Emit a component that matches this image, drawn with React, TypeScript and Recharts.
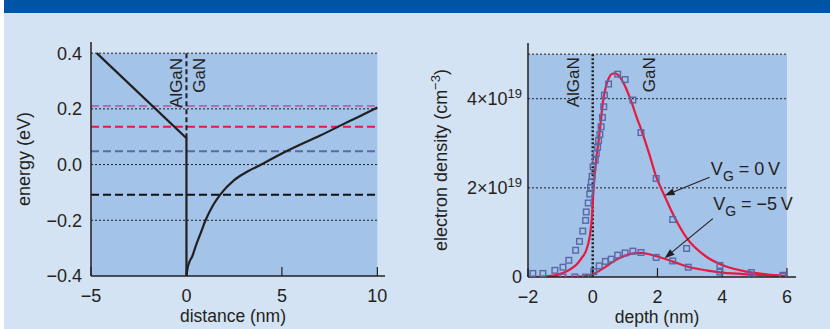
import {
  ComposedChart,
  Line,
  Scatter,
  XAxis,
  YAxis,
  ReferenceArea,
  ReferenceLine,
  ReferenceDot,
} from "recharts";

const FONT = '"Liberation Sans", Arial, Helvetica, sans-serif';
const INK = "#231f20";
const PAGE_BG = "#d4e3f3";
const PLOT_BG = "#a3c3e8";
const HEADER = "#0054a6";
const RED = "#e8193f";
const SQUARE = "#5868a4";

// left panel: conduction band profile (energy in eV vs distance in nm)
const distanceTicks = [-5, 0, 5, 10];
const energyTicks = [-0.4, -0.2, 0, 0.2, 0.4];
const energyGrid = [0.4, 0.2, 0, -0.2];
const barrierX = [-4.7, 0, 0];
const barrierE = [0.4, 0.095, -0.4];
const wellX = [0, 0.05, 0.15, 0.3, 0.5, 0.75, 1.0, 1.4, 1.8, 2.5, 3.2, 4, 5, 6, 7, 8, 9, 10];
const wellE = [-0.4, -0.375, -0.35, -0.33, -0.29, -0.245, -0.2, -0.145, -0.105, -0.056, -0.025, 0.003, 0.04, 0.073, 0.104, 0.138, 0.171, 0.205];
const levelE = [0.21, 0.136, 0.048, -0.108];
const levelColors = ["#b36cb6", RED, "#5a6aa2", "#111111"];

// right panel: electron density, in units of 1e19 cm^-3
const depthTicks = [-2, 0, 2, 4, 6];
const densityTicks = [0, 2, 4];
const densityGrid = [5, 4, 2];
const fit0X = [-2, -1.5, -1, -0.75, -0.5, -0.35, -0.2, -0.1, -0.03, 0.02, 0.06, 0.1, 0.18, 0.25, 0.32, 0.4, 0.5, 0.6, 0.7, 0.8, 0.9, 1.0, 1.16, 1.35, 1.55, 1.75, 1.96, 2.2, 2.5, 2.9, 3.5, 4.1, 4.75, 5.5, 6];
const fit0Y = [0, 0.01, 0.07, 0.15, 0.28, 0.42, 0.6, 0.88, 1.3, 1.9, 2.3, 2.6, 3.05, 3.5, 3.95, 4.25, 4.47, 4.56, 4.57, 4.52, 4.42, 4.28, 4.0, 3.6, 3.2, 2.75, 2.25, 1.85, 1.38, 0.88, 0.46, 0.24, 0.12, 0.05, 0.02];
const fit5X = [-2, -1, -0.5, -0.2, 0, 0.25, 0.5, 0.75, 1.0, 1.25, 1.5, 1.75, 2.0, 2.5, 3.0, 3.5, 4.0, 4.5, 5, 5.5, 6];
const fit5Y = [0, 0, 0.005, 0.02, 0.06, 0.16, 0.28, 0.4, 0.48, 0.53, 0.54, 0.51, 0.46, 0.34, 0.22, 0.15, 0.1, 0.075, 0.05, 0.035, 0.02];
const meas0X = [-1.85, -1.54, -1.17, -0.92, -0.74, -0.53, -0.41, -0.31, -0.22, -0.2, -0.14, -0.09, -0.07, -0.04, -0.02, 0.01, 0.08, 0.11, 0.15, 0.18, 0.22, 0.26, 0.3, 0.34, 0.36, 0.49, 0.77, 1.0, 1.24, 1.49, 1.96, 2.47, 2.9, 3.93, 4.9, 5.88];
const meas0Y = [0.08, 0.08, 0.15, 0.22, 0.375, 0.6, 0.8, 1.03, 1.27, 1.46, 1.66, 1.86, 2.01, 2.13, 2.26, 2.47, 2.62, 2.77, 2.91, 3.06, 3.2, 3.37, 3.58, 3.82, 4.08, 4.33, 4.55, 4.43, 3.97, 3.24, 2.21, 1.29, 0.64, 0.26, 0.1, 0.04];
const meas5X = [-0.92, -0.55, -0.22, 0.03, 0.2, 0.39, 0.57, 0.77, 1.0, 1.24, 1.49, 1.96, 2.47, 2.95, 3.93, 4.9, 5.88];
const meas5Y = [0, 0, 0, 0.12, 0.25, 0.35, 0.4, 0.49, 0.54, 0.58, 0.55, 0.44, 0.36, 0.22, 0.11, 0.02, 0.02];

const zip = (xs: number[], ys: number[]) => xs.map((x, i) => ({ x, y: ys[i] }));
const fmt = (v: number, digits = 0) => (v < 0 ? "\u2212" : "") + Math.abs(v).toFixed(digits);

const tickStyle = { fill: INK, fontSize: 18, fontFamily: FONT };
const axisStyle = { stroke: INK, strokeWidth: 1.5 };

const XTitle = ({ viewBox, text, dx }: any) => (
  <text x={viewBox.x + dx} y={viewBox.y + 46} textAnchor="middle" fill={INK} fontSize={17.5} fontFamily={FONT}>
    {text}
  </text>
);

const YTitle = ({ viewBox, dx, children }: any) => {
  const x = viewBox.x + dx;
  const y = viewBox.y + viewBox.height / 2;
  return (
    <text x={x} y={y} transform={`rotate(-90 ${x} ${y})`} textAnchor="middle" fill={INK} fontSize={18} fontFamily={FONT}>
      {children}
    </text>
  );
};

const DensityTick = ({ x, y, payload }: any) => (
  <text x={x} y={y + 6} textAnchor="end" fill={INK} fontSize={18} fontFamily={FONT}>
    {payload.value === 0 ? (
      "0"
    ) : (
      <>
        {payload.value}×10<tspan dy={-7} fontSize={13}>19</tspan>
      </>
    )}
  </text>
);

const Square = ({ cx, cy }: any) => (
  <rect x={cx - 2.8} y={cy - 2.8} width={5.6} height={5.6} fill="none" stroke={SQUARE} strokeWidth={1.4} />
);

const Arrow = ({ x1, y1, x2, y2 }: any) => {
  const a = Math.atan2(y2 - y1, x2 - x1);
  const bx = x2 - 10 * Math.cos(a);
  const by = y2 - 10 * Math.sin(a);
  const nx = -Math.sin(a) * 3.5;
  const ny = Math.cos(a) * 3.5;
  return (
    <g>
      <line x1={x1} y1={y1} x2={bx} y2={by} stroke={INK} strokeWidth={1.1} />
      <polygon points={`${x2},${y2} ${bx + nx},${by + ny} ${bx - nx},${by - ny}`} fill={INK} />
    </g>
  );
};

const sideLabel = (text: string) => ({ cx, cy }: any) => (
  <text x={cx} y={cy} transform={`rotate(-90 ${cx} ${cy})`} textAnchor="end" fill={INK} fontSize={17} fontFamily={FONT}>
    {text}
  </text>
);

const gateLabel = (value: string) => ({ cx, cy }: any) => (
  <text x={cx} y={cy} fill={INK} fontSize={18} fontFamily={FONT}>
    V<tspan dy={6} fontSize={14}>G</tspan>
    <tspan dy={-6}>{` = ${value}\u2009V`}</tspan>
  </text>
);

function BandChart() {
  return (
    <ComposedChart width={400} height={329} margin={{ top: 42, right: 15, bottom: 23, left: 31 }}>
      <XAxis
        type="number"
        dataKey="x"
        domain={[-5, 10.4]}
        ticks={distanceTicks}
        interval={0}
        allowDataOverflow
        height={30}
        tickSize={-9}
        tickMargin={22}
        tickLine={{ stroke: INK, strokeWidth: 1.2 }}
        axisLine={axisStyle}
        tick={tickStyle}
        tickFormatter={(v) => fmt(v)}
        label={<XTitle text="distance (nm)" dx={142} />}
      />
      <YAxis
        type="number"
        dataKey="y"
        domain={[-0.4, 0.44]}
        ticks={energyTicks}
        interval={0}
        allowDataOverflow
        width={60}
        tickLine={false}
        tickSize={0}
        tickMargin={9}
        axisLine={axisStyle}
        tick={tickStyle}
        tickFormatter={(v) => fmt(v, 1)}
        label={<YTitle dx={-1.5}>energy (eV)</YTitle>}
      />
      <ReferenceArea x1={-5} x2={10} y1={-0.4} y2={0.4} fill={PLOT_BG} fillOpacity={1} stroke="none" />
      {energyGrid.map((g) => (
        <ReferenceLine key={g} segment={[{ x: -5, y: g }, { x: 10, y: g }]} stroke={INK} strokeWidth={1} strokeDasharray="2 2" />
      ))}
      {levelE.map((e, i) => (
        <ReferenceLine key={e} segment={[{ x: -5, y: e }, { x: 10, y: e }]} stroke={levelColors[i]} strokeWidth={2} strokeDasharray="8 4" />
      ))}
      <ReferenceLine segment={[{ x: 0, y: 0.4 }, { x: 0, y: 0.095 }]} stroke={INK} strokeWidth={2} strokeDasharray="5 3" />
      <ReferenceDot x={-0.25} y={0.383} r={0} shape={sideLabel("AlGaN")} />
      <ReferenceDot x={0.96} y={0.383} r={0} shape={sideLabel("GaN")} />
      <Line data={zip(barrierX, barrierE)} dataKey="y" type="linear" stroke={INK} strokeWidth={2.2} dot={false} isAnimationActive={false} />
      <Line data={zip(wellX, wellE)} dataKey="y" type="monotone" stroke={INK} strokeWidth={2.2} dot={false} isAnimationActive={false} />
    </ComposedChart>
  );
}

function DensityChart() {
  return (
    <ComposedChart width={410} height={329} margin={{ top: 43, right: 34, bottom: 22, left: 28 }}>
      <XAxis
        type="number"
        dataKey="x"
        domain={[-2, 6.28]}
        ticks={depthTicks}
        interval={0}
        allowDataOverflow
        height={30}
        tickSize={-9}
        tickMargin={22}
        tickLine={{ stroke: INK, strokeWidth: 1.2 }}
        axisLine={axisStyle}
        tick={tickStyle}
        tickFormatter={(v) => fmt(v)}
        label={<XTitle text="depth (nm)" dx={129} />}
      />
      <YAxis
        type="number"
        dataKey="y"
        domain={[0, 5.25]}
        ticks={densityTicks}
        interval={0}
        allowDataOverflow
        width={80}
        tickLine={false}
        tickSize={0}
        tickMargin={6}
        axisLine={axisStyle}
        tick={<DensityTick />}
        label={
          <YTitle dx={-1.3}>
            electron density (cm<tspan dy={-7} fontSize={13}>{"\u22123"}</tspan>
            <tspan dy={7}>)</tspan>
          </YTitle>
        }
      />
      <ReferenceArea x1={-2} x2={6} y1={0} y2={5} fill={PLOT_BG} fillOpacity={1} stroke="none" />
      {densityGrid.map((g) => (
        <ReferenceLine key={g} segment={[{ x: -2, y: g }, { x: 6, y: g }]} stroke={INK} strokeWidth={1} strokeDasharray="2 2" />
      ))}
      <ReferenceLine segment={[{ x: 0, y: 5 }, { x: 0, y: 0 }]} stroke={INK} strokeWidth={2.5} strokeDasharray="2 2" />
      <ReferenceDot x={-0.43} y={4.93} r={0} shape={sideLabel("AlGaN")} />
      <ReferenceDot x={1.91} y={4.93} r={0} shape={sideLabel("GaN")} />
      <Line data={zip(fit0X, fit0Y)} dataKey="y" type="monotone" stroke={RED} strokeWidth={2.2} dot={false} isAnimationActive={false} />
      <Line data={zip(fit5X, fit5Y)} dataKey="y" type="monotone" stroke={RED} strokeWidth={2.2} dot={false} isAnimationActive={false} />
      <Scatter data={zip(meas0X, meas0Y)} dataKey="y" shape={<Square />} isAnimationActive={false} />
      <Scatter data={zip(meas5X, meas5Y)} dataKey="y" shape={<Square />} isAnimationActive={false} />
      <ReferenceLine segment={[{ x: 3.61, y: 2.24 }, { x: 2.22, y: 1.83 }]} shape={<Arrow />} />
      <ReferenceLine segment={[{ x: 3.71, y: 1.31 }, { x: 2.22, y: 0.42 }]} shape={<Arrow />} />
      <ReferenceDot x={3.65} y={2.28} r={0} shape={gateLabel("0")} />
      <ReferenceDot x={3.72} y={1.5} r={0} shape={gateLabel("\u22125")} />
    </ComposedChart>
  );
}

export default function App() {
  return (
    <div style={{ position: "absolute", left: 0, top: 0, width: 830, height: 329, background: "#ffffff", fontFamily: FONT }}>
      <div style={{ position: "absolute", left: 4, top: 0, right: 0, bottom: 0, background: PAGE_BG }} />
      <div style={{ position: "absolute", left: 4, top: 0, right: 0, height: 13, background: HEADER }} />
      <div style={{ position: "absolute", left: 0, top: 0 }}>
        <BandChart />
      </div>
      <div style={{ position: "absolute", left: 420, top: 0 }}>
        <DensityChart />
      </div>
    </div>
  );
}
